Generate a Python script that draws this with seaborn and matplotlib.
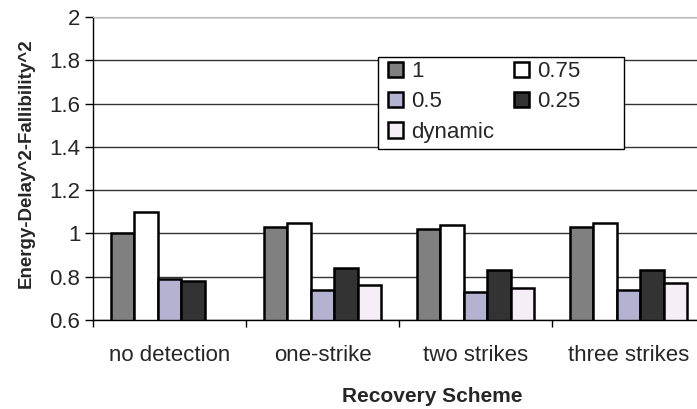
import numpy as np
import pandas as pd
import matplotlib
matplotlib.use("Agg")
import matplotlib.pyplot as plt
import seaborn as sns
from matplotlib.patches import Patch, Rectangle

# Recovery schemes and the fallibility levels compared for each
schemes = ["no detection", "one-strike", "two strikes", "three strikes"]
levels = ["1", "0.75", "0.5", "0.25", "dynamic"]

vals_1 = [1.00, 1.03, 1.02, 1.03]
vals_075 = [1.10, 1.05, 1.04, 1.05]
vals_05 = [0.79, 0.74, 0.73, 0.74]
vals_025 = [0.78, 0.84, 0.83, 0.83]
vals_dyn = [np.nan, 0.76, 0.75, 0.77]

colors = ["#808080", "#ffffff", "#b3b3d1", "#333333", "#f6eef6"]

rows = []
for lvl, series in zip(levels, [vals_1, vals_075, vals_05, vals_025, vals_dyn]):
    for s, v in zip(schemes, series):
        rows.append({"scheme": s, "level": lvl, "value": v})
df = pd.DataFrame(rows)

sns.set_style("white")
plt.rcParams["font.family"] = ["Liberation Sans", "DejaVu Sans"]

W, H = 697, 409
fig = plt.figure(figsize=(W / 100, H / 100), dpi=100)
ax_l, ax_t, ax_w, ax_h = 93, 17, 612, 303
ax = fig.add_axes([ax_l / W, 1 - (ax_t + ax_h) / H, ax_w / W, ax_h / H])


def axfrac(px, py):
    """Pixel position (from top-left of the figure) to axes fraction."""
    return (px - ax_l) / ax_w, (ax_t + ax_h - py) / ax_h


sns.barplot(data=df, x="scheme", y="value", hue="level", order=schemes,
            hue_order=levels, palette=colors, edgecolor="black", linewidth=1.8,
            width=0.765, saturation=1, legend=False, ax=ax)

ax.set_ylim(0.6, 2.0)
ax.set_xlim(-0.5, 3.5)
ax.set_yticks(np.arange(0.6, 2.01, 0.2))
ax.set_yticklabels(["0.6", "0.8", "1", "1.2", "1.4", "1.6", "1.8", "2"])
ax.yaxis.grid(True, color="#333333", linewidth=1.0)
ax.set_axisbelow(True)

ax.tick_params(axis="y", direction="out", length=6, width=1, color="black",
               labelsize=16, pad=3, left=True)
ax.tick_params(axis="x", which="major", length=0, labelsize=16, pad=18)
ax.set_xticks(np.arange(-0.5, 3.6, 1.0), minor=True)
ax.tick_params(axis="x", which="minor", direction="out", length=5, width=1,
               color="black", bottom=True)

ax.spines["right"].set_visible(False)
ax.spines["top"].set_color("#bbbbbb")
for side in ["left", "bottom"]:
    ax.spines[side].set_color("black")
    ax.spines[side].set_linewidth(1.0)

ax.set_xlabel("Recovery Scheme", fontsize=15, fontweight="bold")
ax.set_ylabel("Energy-Delay^2-Fallibility^2", fontsize=13.5, fontweight="bold")
ax.xaxis.set_label_coords(*axfrac(432, 387))
ax.yaxis.set_label_coords(*axfrac(35, 163.5))

# Legend box, then the entries in two columns filled column by column
x0, y0 = axfrac(378, 149)
x1, y1 = axfrac(624, 57)
ax.add_patch(Rectangle((x0, y0), x1 - x0, y1 - y0, transform=ax.transAxes,
                       facecolor="white", edgecolor="black", linewidth=1.0,
                       zorder=4, clip_on=False))
order = [0, 2, 4, 1, 3]
handles = [Patch(facecolor=colors[i], edgecolor="black", linewidth=1.8) for i in order]
labels = [levels[i] for i in order]
leg = ax.legend(handles, labels, ncol=2, loc="upper left",
                bbox_to_anchor=axfrac(388, 61),
                frameon=False, fontsize=16,
                handlelength=0.68, handleheight=0.68, handletextpad=0.36,
                columnspacing=0.9, labelspacing=0.42, borderpad=0,
                borderaxespad=0)
leg.set_zorder(5)

fig.savefig("out.png", dpi=100)
